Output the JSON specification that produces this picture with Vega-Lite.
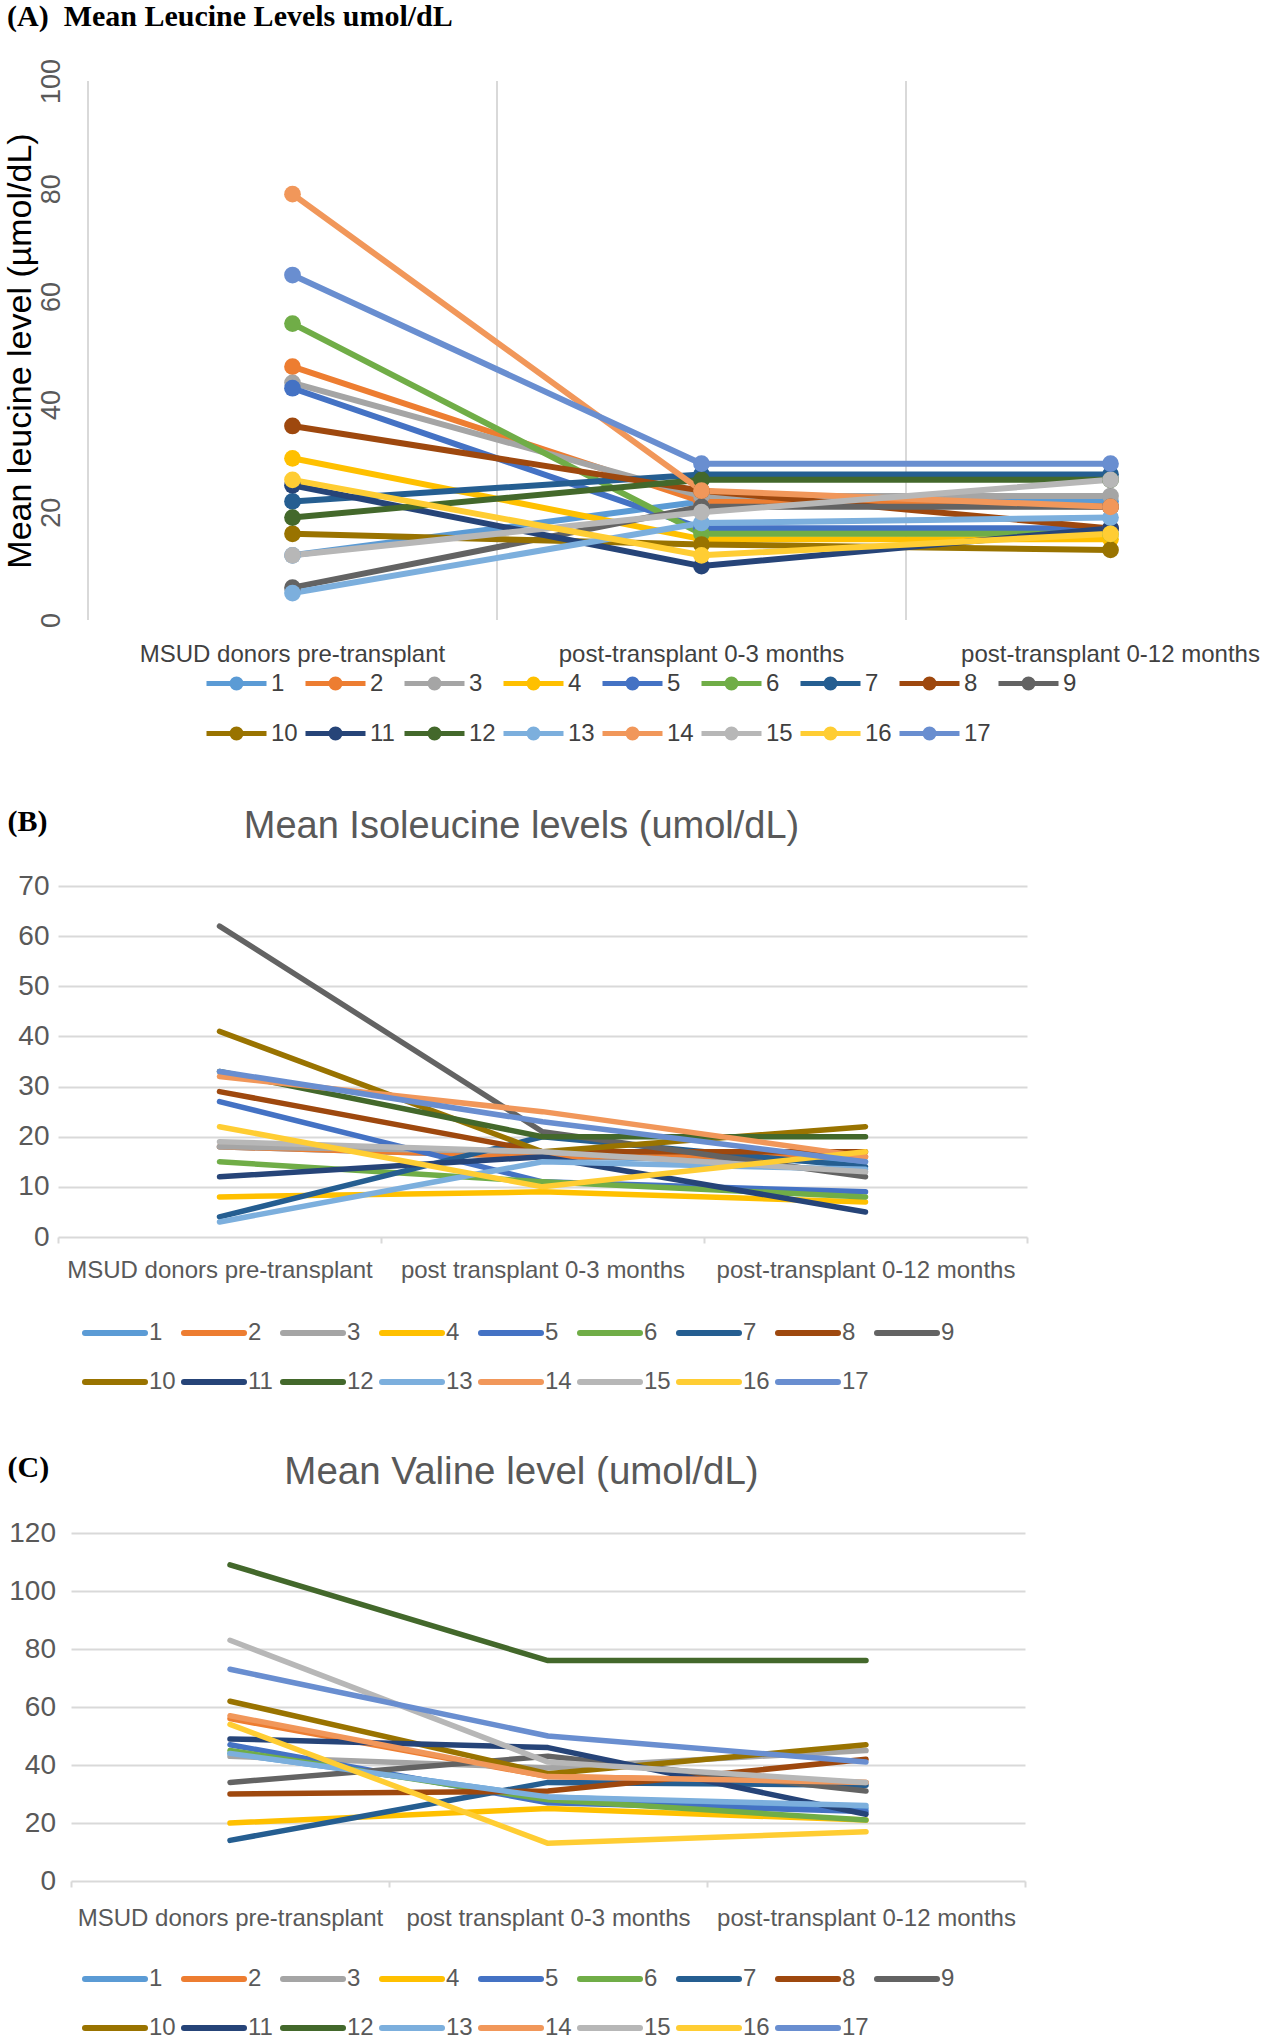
{
  "$schema": "https://vega.github.io/schema/vega-lite/v6.json",
  "background": "white",
  "padding": {"left": 2, "top": 2, "right": 0, "bottom": 0},
  "spacing": 58,
  "resolve": {"scale": {"color": "shared"}, "legend": {"color": "independent"}},
  "config": {
    "view": {"stroke": null},
    "font": "Liberation Sans",
    "axis": {"labelFont": "Liberation Sans", "titleFont": "Liberation Sans"},
    "legend": {"labelFont": "Liberation Sans"}
  },
  "datasets": {
    "perA": [
      {"period": "MSUD donors pre-transplant"},
      {"period": "post-transplant 0-3 months"},
      {"period": "post-transplant 0-12 months"}
    ],
    "leu": [
      {"id": 1, "period": "MSUD donors pre-transplant", "value": 12},
      {"id": 1, "period": "post-transplant 0-3 months", "value": 22},
      {"id": 1, "period": "post-transplant 0-12 months", "value": 22},
      {"id": 2, "period": "MSUD donors pre-transplant", "value": 47},
      {"id": 2, "period": "post-transplant 0-3 months", "value": 22},
      {"id": 2, "period": "post-transplant 0-12 months", "value": 21},
      {"id": 3, "period": "MSUD donors pre-transplant", "value": 44},
      {"id": 3, "period": "post-transplant 0-3 months", "value": 23},
      {"id": 3, "period": "post-transplant 0-12 months", "value": 23},
      {"id": 4, "period": "MSUD donors pre-transplant", "value": 30},
      {"id": 4, "period": "post-transplant 0-3 months", "value": 15},
      {"id": 4, "period": "post-transplant 0-12 months", "value": 15},
      {"id": 5, "period": "MSUD donors pre-transplant", "value": 43},
      {"id": 5, "period": "post-transplant 0-3 months", "value": 17},
      {"id": 5, "period": "post-transplant 0-12 months", "value": 17},
      {"id": 6, "period": "MSUD donors pre-transplant", "value": 55},
      {"id": 6, "period": "post-transplant 0-3 months", "value": 16},
      {"id": 6, "period": "post-transplant 0-12 months", "value": 16},
      {"id": 7, "period": "MSUD donors pre-transplant", "value": 22},
      {"id": 7, "period": "post-transplant 0-3 months", "value": 27},
      {"id": 7, "period": "post-transplant 0-12 months", "value": 27},
      {"id": 8, "period": "MSUD donors pre-transplant", "value": 36},
      {"id": 8, "period": "post-transplant 0-3 months", "value": 24},
      {"id": 8, "period": "post-transplant 0-12 months", "value": 17},
      {"id": 9, "period": "MSUD donors pre-transplant", "value": 6},
      {"id": 9, "period": "post-transplant 0-3 months", "value": 21},
      {"id": 9, "period": "post-transplant 0-12 months", "value": 21},
      {"id": 10, "period": "MSUD donors pre-transplant", "value": 16},
      {"id": 10, "period": "post-transplant 0-3 months", "value": 14},
      {"id": 10, "period": "post-transplant 0-12 months", "value": 13},
      {"id": 11, "period": "MSUD donors pre-transplant", "value": 25},
      {"id": 11, "period": "post-transplant 0-3 months", "value": 10},
      {"id": 11, "period": "post-transplant 0-12 months", "value": 17},
      {"id": 12, "period": "MSUD donors pre-transplant", "value": 19},
      {"id": 12, "period": "post-transplant 0-3 months", "value": 26},
      {"id": 12, "period": "post-transplant 0-12 months", "value": 26},
      {"id": 13, "period": "MSUD donors pre-transplant", "value": 5},
      {"id": 13, "period": "post-transplant 0-3 months", "value": 18},
      {"id": 13, "period": "post-transplant 0-12 months", "value": 19},
      {"id": 14, "period": "MSUD donors pre-transplant", "value": 79},
      {"id": 14, "period": "post-transplant 0-3 months", "value": 24},
      {"id": 14, "period": "post-transplant 0-12 months", "value": 21},
      {"id": 15, "period": "MSUD donors pre-transplant", "value": 12},
      {"id": 15, "period": "post-transplant 0-3 months", "value": 20},
      {"id": 15, "period": "post-transplant 0-12 months", "value": 26},
      {"id": 16, "period": "MSUD donors pre-transplant", "value": 26},
      {"id": 16, "period": "post-transplant 0-3 months", "value": 12},
      {"id": 16, "period": "post-transplant 0-12 months", "value": 16},
      {"id": 17, "period": "MSUD donors pre-transplant", "value": 64},
      {"id": 17, "period": "post-transplant 0-3 months", "value": 29},
      {"id": 17, "period": "post-transplant 0-12 months", "value": 29}
    ],
    "ile": [
      {"id": 1, "period": "MSUD donors pre-transplant", "value": 18},
      {"id": 1, "period": "post transplant 0-3 months", "value": 16},
      {"id": 1, "period": "post-transplant 0-12 months", "value": 15},
      {"id": 2, "period": "MSUD donors pre-transplant", "value": 18},
      {"id": 2, "period": "post transplant 0-3 months", "value": 16},
      {"id": 2, "period": "post-transplant 0-12 months", "value": 16},
      {"id": 3, "period": "MSUD donors pre-transplant", "value": 18},
      {"id": 3, "period": "post transplant 0-3 months", "value": 17},
      {"id": 3, "period": "post-transplant 0-12 months", "value": 13},
      {"id": 4, "period": "MSUD donors pre-transplant", "value": 8},
      {"id": 4, "period": "post transplant 0-3 months", "value": 9},
      {"id": 4, "period": "post-transplant 0-12 months", "value": 7},
      {"id": 5, "period": "MSUD donors pre-transplant", "value": 27},
      {"id": 5, "period": "post transplant 0-3 months", "value": 11},
      {"id": 5, "period": "post-transplant 0-12 months", "value": 9},
      {"id": 6, "period": "MSUD donors pre-transplant", "value": 15},
      {"id": 6, "period": "post transplant 0-3 months", "value": 11},
      {"id": 6, "period": "post-transplant 0-12 months", "value": 8},
      {"id": 7, "period": "MSUD donors pre-transplant", "value": 4},
      {"id": 7, "period": "post transplant 0-3 months", "value": 20},
      {"id": 7, "period": "post-transplant 0-12 months", "value": 14},
      {"id": 8, "period": "MSUD donors pre-transplant", "value": 29},
      {"id": 8, "period": "post transplant 0-3 months", "value": 17},
      {"id": 8, "period": "post-transplant 0-12 months", "value": 17},
      {"id": 9, "period": "MSUD donors pre-transplant", "value": 62},
      {"id": 9, "period": "post transplant 0-3 months", "value": 21},
      {"id": 9, "period": "post-transplant 0-12 months", "value": 12},
      {"id": 10, "period": "MSUD donors pre-transplant", "value": 41},
      {"id": 10, "period": "post transplant 0-3 months", "value": 17},
      {"id": 10, "period": "post-transplant 0-12 months", "value": 22},
      {"id": 11, "period": "MSUD donors pre-transplant", "value": 12},
      {"id": 11, "period": "post transplant 0-3 months", "value": 16},
      {"id": 11, "period": "post-transplant 0-12 months", "value": 5},
      {"id": 12, "period": "MSUD donors pre-transplant", "value": 33},
      {"id": 12, "period": "post transplant 0-3 months", "value": 20},
      {"id": 12, "period": "post-transplant 0-12 months", "value": 20},
      {"id": 13, "period": "MSUD donors pre-transplant", "value": 3},
      {"id": 13, "period": "post transplant 0-3 months", "value": 15},
      {"id": 13, "period": "post-transplant 0-12 months", "value": 13.5},
      {"id": 14, "period": "MSUD donors pre-transplant", "value": 32},
      {"id": 14, "period": "post transplant 0-3 months", "value": 25},
      {"id": 14, "period": "post-transplant 0-12 months", "value": 16},
      {"id": 15, "period": "MSUD donors pre-transplant", "value": 19},
      {"id": 15, "period": "post transplant 0-3 months", "value": 17},
      {"id": 15, "period": "post-transplant 0-12 months", "value": 13},
      {"id": 16, "period": "MSUD donors pre-transplant", "value": 22},
      {"id": 16, "period": "post transplant 0-3 months", "value": 10},
      {"id": 16, "period": "post-transplant 0-12 months", "value": 17},
      {"id": 17, "period": "MSUD donors pre-transplant", "value": 33},
      {"id": 17, "period": "post transplant 0-3 months", "value": 23},
      {"id": 17, "period": "post-transplant 0-12 months", "value": 15}
    ],
    "val": [
      {"id": 1, "period": "MSUD donors pre-transplant", "value": 44},
      {"id": 1, "period": "post transplant 0-3 months", "value": 29},
      {"id": 1, "period": "post-transplant 0-12 months", "value": 25},
      {"id": 2, "period": "MSUD donors pre-transplant", "value": 56},
      {"id": 2, "period": "post transplant 0-3 months", "value": 36},
      {"id": 2, "period": "post-transplant 0-12 months", "value": 34},
      {"id": 3, "period": "MSUD donors pre-transplant", "value": 43},
      {"id": 3, "period": "post transplant 0-3 months", "value": 39},
      {"id": 3, "period": "post-transplant 0-12 months", "value": 45},
      {"id": 4, "period": "MSUD donors pre-transplant", "value": 20},
      {"id": 4, "period": "post transplant 0-3 months", "value": 25},
      {"id": 4, "period": "post-transplant 0-12 months", "value": 21},
      {"id": 5, "period": "MSUD donors pre-transplant", "value": 47},
      {"id": 5, "period": "post transplant 0-3 months", "value": 27},
      {"id": 5, "period": "post-transplant 0-12 months", "value": 24},
      {"id": 6, "period": "MSUD donors pre-transplant", "value": 45},
      {"id": 6, "period": "post transplant 0-3 months", "value": 28},
      {"id": 6, "period": "post-transplant 0-12 months", "value": 21},
      {"id": 7, "period": "MSUD donors pre-transplant", "value": 14},
      {"id": 7, "period": "post transplant 0-3 months", "value": 34},
      {"id": 7, "period": "post-transplant 0-12 months", "value": 33},
      {"id": 8, "period": "MSUD donors pre-transplant", "value": 30},
      {"id": 8, "period": "post transplant 0-3 months", "value": 31},
      {"id": 8, "period": "post-transplant 0-12 months", "value": 42},
      {"id": 9, "period": "MSUD donors pre-transplant", "value": 34},
      {"id": 9, "period": "post transplant 0-3 months", "value": 43},
      {"id": 9, "period": "post-transplant 0-12 months", "value": 31},
      {"id": 10, "period": "MSUD donors pre-transplant", "value": 62},
      {"id": 10, "period": "post transplant 0-3 months", "value": 37},
      {"id": 10, "period": "post-transplant 0-12 months", "value": 47},
      {"id": 11, "period": "MSUD donors pre-transplant", "value": 49},
      {"id": 11, "period": "post transplant 0-3 months", "value": 46},
      {"id": 11, "period": "post-transplant 0-12 months", "value": 23},
      {"id": 12, "period": "MSUD donors pre-transplant", "value": 109},
      {"id": 12, "period": "post transplant 0-3 months", "value": 76},
      {"id": 12, "period": "post-transplant 0-12 months", "value": 76},
      {"id": 13, "period": "MSUD donors pre-transplant", "value": 44},
      {"id": 13, "period": "post transplant 0-3 months", "value": 29},
      {"id": 13, "period": "post-transplant 0-12 months", "value": 26},
      {"id": 14, "period": "MSUD donors pre-transplant", "value": 57},
      {"id": 14, "period": "post transplant 0-3 months", "value": 36},
      {"id": 14, "period": "post-transplant 0-12 months", "value": 34},
      {"id": 15, "period": "MSUD donors pre-transplant", "value": 83},
      {"id": 15, "period": "post transplant 0-3 months", "value": 41},
      {"id": 15, "period": "post-transplant 0-12 months", "value": 34},
      {"id": 16, "period": "MSUD donors pre-transplant", "value": 54},
      {"id": 16, "period": "post transplant 0-3 months", "value": 13},
      {"id": 16, "period": "post-transplant 0-12 months", "value": 17},
      {"id": 17, "period": "MSUD donors pre-transplant", "value": 73},
      {"id": 17, "period": "post transplant 0-3 months", "value": 50},
      {"id": 17, "period": "post-transplant 0-12 months", "value": 41}
    ]
  },
  "vconcat": [
    {
      "width": 1211,
      "height": 539,
      "title": {"text": "(A)\u00a0 Mean Leucine Levels umol/dL", "anchor": "start", "frame": "bounds", "font": "Liberation Serif", "fontWeight": "bold", "fontSize": 30, "color": "black", "offset": 26, "dx": 4},
      "layer": [
        {
          "data": {"name": "perA"},
          "mark": {"type": "rule", "color": "#D9D9D9", "strokeWidth": 2},
          "encoding": {
            "x": {"field": "period", "type": "nominal", "bandPosition": 0, "title": null}
          }
        },
        {
          "data": {"name": "leu"},
          "mark": {"type": "line", "strokeWidth": 6, "strokeCap": "round", "strokeJoin": "round", "point": {"filled": true, "size": 280, "opacity": 1}},
          "encoding": {
            "x": {"field": "period", "type": "nominal", "bandPosition": 0.5, "title": null,
              "scale": {"type": "band", "domain": ["MSUD donors pre-transplant", "post-transplant 0-3 months", "post-transplant 0-12 months"], "range": [30, 1257], "paddingInner": 0, "paddingOuter": 0},
              "axis": {"labelFontSize": 24, "labelColor": "#404040", "labelPadding": 34, "labelAlign": "center", "bandPosition": 0.5, "ticks": false, "domain": false, "grid": false, "labelLimit": 0, "labelOverlap": false, "labelAngle": 0}},
            "y": {"field": "value", "type": "quantitative",
              "scale": {"domain": [0, 100], "nice": false},
              "axis": {"title": "Mean leucine level (µmol/dL)", "titleFontSize": 34, "titleFontWeight": "normal", "titleColor": "black", "titlePadding": 0, "values": [0, 20, 40, 60, 80, 100], "labelAngle": -90, "labelFontSize": 27, "labelColor": "#595959", "labelPadding": -7, "ticks": false, "domain": false, "grid": false}},
            "color": {"field": "id", "type": "nominal",
              "scale": {"domain": [1, 2, 3, 4, 5, 6, 7, 8, 9, 10, 11, 12, 13, 14, 15, 16, 17], "range": ["#5B9BD5", "#ED7D31", "#A5A5A5", "#FFC000", "#4472C4", "#70AD47", "#255E91", "#9E480E", "#636363", "#997300", "#264478", "#43682B", "#7CAFDD", "#F1975A", "#B7B7B7", "#FFCD33", "#698ED0"]},
              "legend": {"title": null, "orient": "none", "legendX": 161, "legendY": 585, "direction": "horizontal", "columns": 9, "gridAlign": "all", "padding": 0,
                "symbolType": "M-2,0L2,0M0.3,0A0.3,0.3,0,1,1,-0.3,0A0.3,0.3,0,1,1,0.3,0Z", "symbolSize": 900, "symbolStrokeWidth": 5,
                "labelOffset": 17, "columnPadding": -3, "rowPadding": 18, "labelFontSize": 24, "labelColor": "#404040",
                "encode": {"symbols": {"update": {"fill": {"scale": "color", "field": "value"}, "stroke": {"scale": "color", "field": "value"}, "opacity": {"value": 1}}}}}}
          }
        }
      ]
    },
    {
      "width": 969,
      "height": 351,
      "title": {"text": "Mean Isoleucine levels (umol/dL)", "anchor": "middle", "frame": "group", "font": "Liberation Sans", "fontWeight": "normal", "fontSize": 38, "color": "#595959", "dx": -21, "offset": 0, "dy": 40},
      "data": {"name": "ile"},
      "mark": {"type": "line", "strokeWidth": 5.5, "strokeCap": "round", "strokeJoin": "round"},
      "encoding": {
        "x": {"field": "period", "type": "nominal", "title": null,
          "scale": {"type": "band", "domain": ["MSUD donors pre-transplant", "post transplant 0-3 months", "post-transplant 0-12 months"], "range": [0, 969], "paddingInner": 0, "paddingOuter": 0},
          "axis": {"labelFontSize": 24, "labelColor": "#595959", "labelPadding": 15, "labelAlign": "center", "tickBand": "extent", "ticks": true, "tickSize": 6, "tickColor": "#D9D9D9", "tickWidth": 2, "domain": false, "grid": false, "labelLimit": 0, "labelOverlap": false, "labelAngle": 0}},
        "y": {"field": "value", "type": "quantitative",
          "scale": {"domain": [0, 70], "nice": false},
          "axis": {"title": "(B)", "titleAngle": 0, "titleX": -51, "titleY": -65, "titleAlign": "left", "titleBaseline": "middle", "titleFont": "Liberation Serif", "titleFontWeight": "bold", "titleFontSize": 30, "titleColor": "black",
            "values": [0, 10, 20, 30, 40, 50, 60, 70], "labelFontSize": 28, "labelColor": "#595959", "labelPadding": 9, "ticks": false, "domain": false, "grid": true, "gridColor": "#D9D9D9", "gridWidth": 2}},
        "color": {"field": "id", "type": "nominal",
          "legend": {"title": null, "orient": "none", "legendX": 39, "legendY": 429, "direction": "horizontal", "columns": 9, "gridAlign": "all", "padding": 0,
            "symbolType": "M-2,0L2,0", "symbolSize": 900, "symbolStrokeWidth": 6,
            "labelOffset": 16, "columnPadding": -4, "rowPadding": 19, "labelFontSize": 24, "labelColor": "#595959",
            "encode": {"symbols": {"update": {"strokeCap": {"value": "round"}, "opacity": {"value": 1}}}}}}
      }
    },
    {
      "width": 967,
      "height": 348,
      "title": {"text": "Mean Valine level (umol/dL)", "anchor": "middle", "frame": "group", "font": "Liberation Sans", "fontWeight": "normal", "fontSize": 38.5, "color": "#595959", "dx": -20, "offset": 3, "dy": 43},
      "data": {"name": "val"},
      "mark": {"type": "line", "strokeWidth": 5.5, "strokeCap": "round", "strokeJoin": "round"},
      "encoding": {
        "x": {"field": "period", "type": "nominal", "title": null,
          "scale": {"type": "band", "domain": ["MSUD donors pre-transplant", "post transplant 0-3 months", "post-transplant 0-12 months"], "range": [13, 967], "paddingInner": 0, "paddingOuter": 0},
          "axis": {"labelFontSize": 24, "labelColor": "#595959", "labelPadding": 19, "labelAlign": "center", "tickBand": "extent", "ticks": true, "tickSize": 6, "tickColor": "#D9D9D9", "tickWidth": 2, "domain": false, "grid": false, "labelLimit": 0, "labelOverlap": false, "labelAngle": 0}},
        "y": {"field": "value", "type": "quantitative",
          "scale": {"domain": [0, 120], "nice": false},
          "axis": {"title": "(C)", "titleAngle": 0, "titleX": -51, "titleY": -66, "titleAlign": "left", "titleBaseline": "middle", "titleFont": "Liberation Serif", "titleFontWeight": "bold", "titleFontSize": 30, "titleColor": "black",
            "values": [0, 20, 40, 60, 80, 100, 120], "labelFontSize": 28, "labelColor": "#595959", "labelPadding": 2.5, "ticks": false, "domain": false, "grid": true, "gridColor": "#D9D9D9", "gridWidth": 2}},
        "color": {"field": "id", "type": "nominal",
          "legend": {"title": null, "orient": "none", "legendX": 39, "legendY": 428, "direction": "horizontal", "columns": 9, "gridAlign": "all", "padding": 0,
            "symbolType": "M-2,0L2,0", "symbolSize": 900, "symbolStrokeWidth": 6,
            "labelOffset": 16, "columnPadding": -4, "rowPadding": 19, "labelFontSize": 24, "labelColor": "#595959",
            "encode": {"symbols": {"update": {"strokeCap": {"value": "round"}, "opacity": {"value": 1}}}}}}
      }
    }
  ]
}
